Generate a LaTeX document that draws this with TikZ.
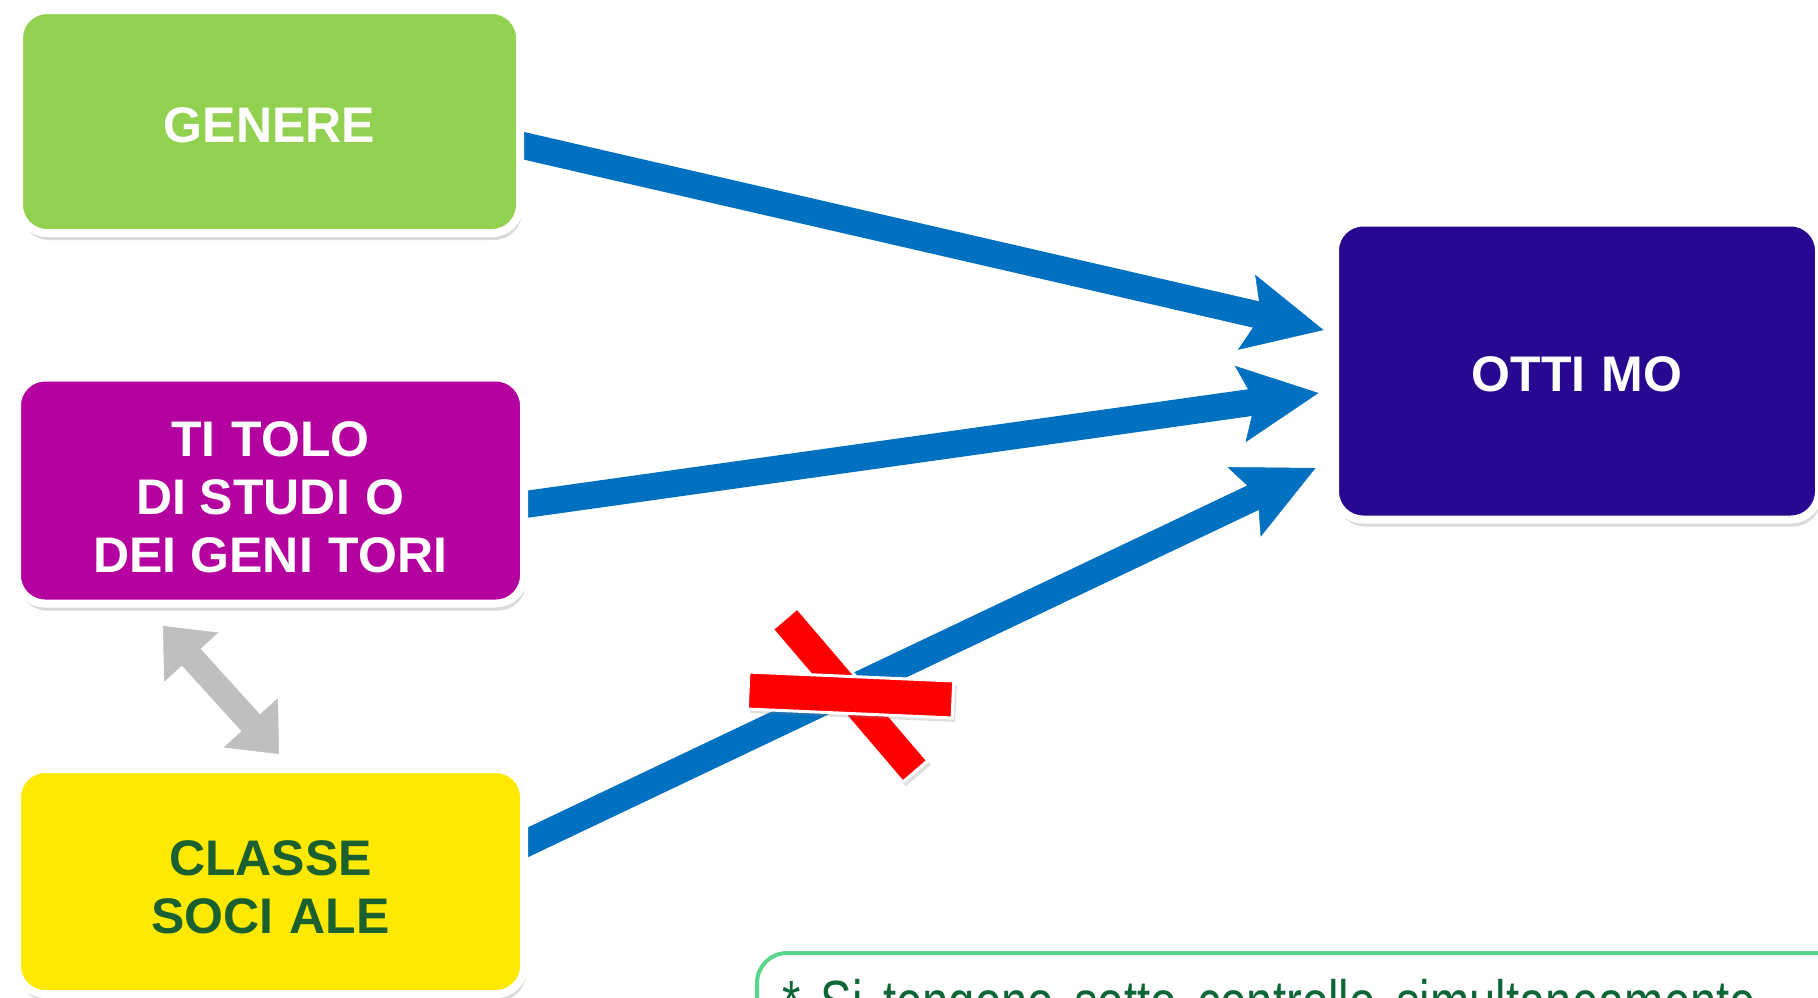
\documentclass[tikz,border=0pt]{standalone}
\usepackage{fontspec}
\setmainfont{Liberation Sans}
\newfontfamily\notefont[FakeStretch=0.775]{Liberation Sans}
\usetikzlibrary{arrows.meta,shadows,backgrounds}

\definecolor{generegreen}{HTML}{92D050}
\definecolor{titolomag}{HTML}{B4009E}
\definecolor{classeyellow}{HTML}{FFE900}
\definecolor{ottimoblue}{HTML}{280890}
\definecolor{linkblue}{HTML}{0070C0}
\definecolor{classetext}{HTML}{1A6030}
\definecolor{notegreen}{HTML}{5AD68A}
\definecolor{notetext}{HTML}{0E6636}
\definecolor{bothgray}{HTML}{BFBFBF}

% wide gap after I, as in the slide
\newcommand{\gapI}{I\kern16pt}

\tikzset{
    box/.style={rectangle, rounded corners=28pt, draw=white, line width=8pt,
        align=center, text=white, text height=42pt,
        font=\fontsize{50}{58}\selectfont\bfseries,
        drop shadow={shadow xshift=2pt, shadow yshift=-7pt, opacity=0.3}},
    link/.style={draw=linkblue, line width=27pt,
        -{Stealth[length=79pt, width=77pt, inset=15pt, line width=0.5pt]}},
    bothway/.style={draw=bothgray, line width=25pt,
        {Triangle[length=42pt, width=73pt, line width=0.5pt]}-{Triangle[length=42pt, width=73pt, line width=0.5pt]}},
    crossbar/.style={rectangle, fill=red, draw=white, line width=3pt, inner sep=0pt,
        drop shadow={shadow xshift=3pt, shadow yshift=-4pt, opacity=0.25}},
    notebox/.style={rectangle, rounded corners=30pt, draw=notegreen, line width=4pt,
        fill=white, anchor=north west, align=left, text=notetext, text width=1150pt,
        inner xsep=25pt, inner ysep=26pt,
        font=\notefont\fontsize{61}{70}\selectfont}
}

\begin{document}
\begin{tikzpicture}[x=1pt,y=-1pt]
    \useasboundingbox (0,0) rectangle (1818,997);
    \clip (0,0) rectangle (1818,997);
    %% factors
    \node[box, fill=generegreen, minimum width=501pt, minimum height=223pt]
        (genere) at (269.5,121.5) {GENERE};
    \node[box, fill=titolomag, text height=164pt, minimum width=507pt, minimum height=226pt]
        (titolo) at (270.5,490.5) {T\gapI TOLO\\DI STUD\gapI O\\DEI GEN\gapI TORI};
    \node[box, fill=classeyellow, text=classetext, text height=105pt, minimum width=507pt, minimum height=225pt]
        (classe) at (270.5,881.5) {CLASSE\\SOC\gapI ALE};
    %% outcome
    \node[box, fill=ottimoblue, minimum width=484pt, minimum height=297pt]
        (ottimo) at (1577,371) {OTT\gapI MO};
    %% effects
    \begin{pgfonlayer}{background}
        \foreach \src/\sy/\ex/\ey in {genere/-22/-7.5/41, titolo/-15/-12.5/-22, classe/34.5/-15.5/-97}
            \draw[link] ([xshift=-10pt,yshift=\sy pt]\src.east) -- ([xshift=\ex pt,yshift=\ey pt]ottimo.west);
    \end{pgfonlayer}
    %% no effect
    \node[crossbar, minimum width=201pt, minimum height=33pt, rotate=-49.5]
        (stopslash) at (850,695) {};
    \node[crossbar, minimum width=205pt, minimum height=37pt, rotate=-2.5]
        (stopbar) at (850.5,695) {};
    %% association
    \draw[bothway] ([xshift=-107.5pt,yshift=-18.5pt]titolo.south)
        -- ([xshift=8.5pt,yshift=11pt]classe.north);
    %% note
    \node[notebox] (note) at (755,951) {* Si tengono sotto controllo simultaneamente};
\end{tikzpicture}
\end{document}
